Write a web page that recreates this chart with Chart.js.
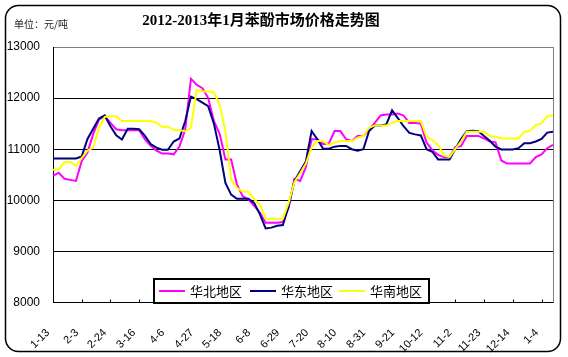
<!DOCTYPE html>
<html>
<head>
<meta charset="utf-8">
<script src="https://cdn.jsdelivr.net/npm/chart.js@4/dist/chart.umd.min.js"></script>
<style>
html,body{margin:0;padding:0;background:#fff;}
#wrap{width:568px;height:357px;position:relative;overflow:hidden;}
#c{position:absolute;left:0;top:0;}
.xl{position:absolute;width:0;height:0;}
.xl span{position:absolute;right:0;top:-7px;height:14px;line-height:14px;white-space:nowrap;
  font:11px "Liberation Sans", Arial, sans-serif;color:#000;
  transform-origin:100% 50%;transform:rotate(-45deg);}
</style>
</head>
<body>
<div id="wrap"><canvas id="c" width="568" height="357"></canvas></div>
<script>
const titleText = '2012-2013年1月苯酚市场价格走势图';
const unitText = '单位：元/吨';
const seriesNames = ['华北地区', '华东地区', '华南地区'];
const dateLabels = ['1-13','2-3','2-24','3-16','4-6','4-27','5-18','6-8','6-29','7-20','8-10','8-31','9-21','10-12','11-2','11-23','12-14','1-4'];
const yTicks = [8000, 9000, 10000, 11000, 12000, 13000];

const huabei = [10480,10540,10420,10400,10380,10770,10935,11300,11580,11645,
11515,11390,11370,11370,11370,11370,11190,11065,10970,10915,
10915,10900,11050,11380,12380,12260,12195,12000,11550,11300,
10800,10800,10310,10080,10020,9890,9760,9560,9560,9560,
9575,9855,10420,10380,10650,11195,11195,11100,11115,11355,
11355,11195,11160,11260,11260,11390,11515,11660,11680,11680,
11700,11660,11515,11515,11500,11130,10980,10890,10845,10845,
11040,11060,11260,11260,11260,11210,11150,11135,10780,10720,
10720,10720,10720,10720,10845,10900,11020,11085];

const huadong = [10820,10820,10820,10820,10820,10860,11200,11400,11600,11660,
11450,11270,11190,11400,11400,11390,11260,11100,11030,10990,
10990,11150,11210,11545,12030,11980,11910,11840,11500,10980,
10340,10110,10030,10030,10030,9950,9725,9450,9465,9500,
9515,9890,10375,10570,10760,11355,11195,11010,11010,11050,
11065,11065,11000,10970,11000,11355,11465,11465,11485,11760,
11610,11450,11320,11290,11270,11000,10950,10800,10800,10800,
11005,11200,11350,11360,11350,11260,11165,11050,10995,10995,
10995,11020,11115,11115,11150,11200,11325,11340];

const huanan = [10600,10600,10750,10750,10670,10830,10970,11030,11420,11630,
11645,11645,11550,11550,11550,11550,11550,11550,11520,11440,
11440,11380,11370,11350,11415,12160,12130,12130,12110,11870,
11350,10410,10245,10170,10170,10020,9920,9640,9640,9640,
9640,9950,10355,10530,10720,11040,11160,11160,11080,11130,
11160,11160,11160,11225,11260,11420,11465,11465,11465,11515,
11550,11550,11550,11550,11550,11245,11180,11085,10880,10845,
11005,11150,11340,11340,11340,11340,11260,11245,11210,11210,
11210,11210,11340,11360,11470,11505,11650,11665];

const colors = ['#FF00FF', '#000080', '#FFFF00'];
const seriesData = [huabei, huadong, huanan];
const labelEvery = 5;

function toPoints(arr){ return arr.map((v,i)=>({x:i, y:v})); }

const decor = {
  id: 'decor',
  beforeDraw(chart){
    const c = chart.ctx;
    c.save();
    c.fillStyle = '#fff';
    c.fillRect(0,0,chart.width,chart.height);
    c.restore();
  },
  afterDatasetsDraw(chart){
    const c = chart.ctx, a = chart.chartArea, xs = chart.scales.x;
    c.save();
    c.strokeStyle = '#808080'; c.lineWidth = 1;
    c.beginPath(); c.moveTo(Math.round(a.right)+0.5, a.top); c.lineTo(Math.round(a.right)+0.5, a.bottom); c.stroke();
    c.strokeStyle = '#000';
    xs.ticks.forEach(t=>{
      const px = Math.round(xs.getPixelForValue(t.value))+0.5;
      c.beginPath(); c.moveTo(px, a.bottom); c.lineTo(px, a.bottom-3); c.stroke();
    });
    c.restore();
  },
  afterDraw(chart){
    const c = chart.ctx;
    c.save();
    c.strokeStyle = '#000'; c.lineWidth = 1.5;
    c.beginPath();
    if (c.roundRect) c.roundRect(5.5,5.5,555,346,13); else c.rect(5.5,5.5,555,346);
    c.stroke();
    c.fillStyle = '#000';
    c.font = 'bold 15px "Liberation Serif", "Noto Sans CJK SC", serif';
    c.textAlign = 'center'; c.textBaseline = 'middle';
    c.fillText(titleText, 261, 21);
    c.font = '10px "Noto Sans CJK SC", sans-serif';
    c.textAlign = 'left';
    c.fillStyle = '#222';
    c.fillText(unitText, 14, 24);
    const lx = 154, ly = 279, lw = 275, lh = 24;
    c.fillStyle = '#fff';
    c.fillRect(lx, ly, lw, lh);
    c.strokeStyle = '#000'; c.lineWidth = 2;
    c.strokeRect(lx, ly, lw, lh);
    const lineStarts = [159, 250, 339];
    c.font = '13px "Noto Sans CJK SC", sans-serif';
    c.textBaseline = 'middle'; c.textAlign = 'left';
    chart.data.datasets.forEach((ds,i)=>{
      const sx = lineStarts[i];
      c.strokeStyle = ds.borderColor; c.lineWidth = 2;
      c.beginPath(); c.moveTo(sx, 291); c.lineTo(sx+26, 291); c.stroke();
      c.fillStyle = '#000';
      c.fillText(ds.label, sx+31, 291);
    });
    c.restore();
  }
};

const chart = new Chart(document.getElementById('c'), {
  type: 'line',
  data: {
    datasets: seriesNames.map((n,i)=>({
      label: n,
      data: toPoints(seriesData[i]),
      borderColor: colors[i],
      backgroundColor: colors[i],
      borderWidth: 2,
      pointRadius: 0,
      tension: 0,
      fill: false,
      order: 2 - i
    }))
  },
  options: {
    responsive: false,
    animation: false,
    devicePixelRatio: 1,
    layout: { padding: { top: 47, right: 15, left: 0, bottom: 0 } },
    plugins: { legend: { display: false }, title: { display: false }, tooltip: { enabled: false } },
    scales: {
      x: {
        type: 'linear',
        min: 0,
        max: huabei.length - 1,
        afterBuildTicks: (s) => { s.ticks = dateLabels.map((l,k)=>({value: k*labelEvery})); },
        afterFit: (s) => { s.height = 54.5; },
        ticks: { display: false },
        grid: { display: false, drawTicks: false },
        border: { display: true, color: '#000', width: 1 }
      },
      y: {
        min: 8000, max: 13000,
        afterBuildTicks: (s) => { s.ticks = yTicks.map(v=>({value:v})); },
        afterFit: (s) => { s.width = 53; },
        ticks: {
          padding: 13, color: '#000',
          font: { family: '"Liberation Sans", Arial, sans-serif', size: 12 },
          callback: (v) => String(v)
        },
        grid: {
          drawTicks: false,
          color: (ctx) => ctx.tick && ctx.tick.value === 13000 ? '#808080' : (ctx.tick && ctx.tick.value === 8000 ? 'rgba(0,0,0,0)' : '#000'),
          lineWidth: 1
        },
        border: { display: true, color: '#000', width: 1 }
      }
    }
  },
  plugins: [decor]
});

// 45-degree x tick labels placed at the x scale's tick pixels
(function(){
  const xs = chart.scales.x, a = chart.chartArea, wrap = document.getElementById('wrap');
  xs.ticks.forEach(t=>{
    const lbl = dateLabels[Math.round(t.value / labelEvery)];
    if (!lbl) return;
    const d = document.createElement('div');
    d.className = 'xl';
    d.style.left = (xs.getPixelForValue(t.value) - 5) + 'px';
    d.style.top = (a.bottom + 28) + 'px';
    const s = document.createElement('span');
    s.textContent = lbl;
    d.appendChild(s);
    wrap.appendChild(d);
  });
})();
</script>
</body>
</html>
